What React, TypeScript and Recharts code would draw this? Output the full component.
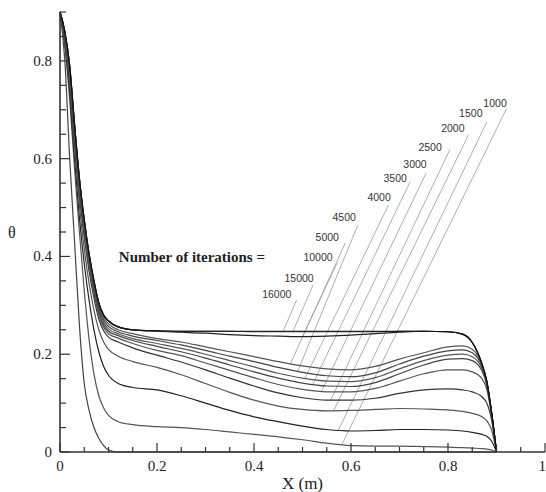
import { LineChart, Line, XAxis, YAxis, ReferenceLine, ReferenceDot } from 'recharts';

// x positions (m) shared by every curve
const xs = [0, 0.01, 0.02, 0.03, 0.04, 0.05, 0.06, 0.07, 0.08, 0.09, 0.1, 0.12, 0.15,
  0.2, 0.25, 0.3, 0.35, 0.4, 0.45, 0.5, 0.55, 0.6, 0.65, 0.7, 0.75, 0.8, 0.83, 0.85, 0.87, 0.88, 0.89, 0.9];

const it16000 = [0.9, 0.86, 0.79, 0.67, 0.56, 0.475, 0.405, 0.35, 0.305, 0.28, 0.268, 0.256, 0.25,
  0.248, 0.247, 0.247, 0.247, 0.247, 0.247, 0.247, 0.247, 0.247, 0.247, 0.247, 0.247, 0.246, 0.241, 0.224, 0.18, 0.145, 0.08, 0];
const it15000 = [0.9, 0.86, 0.79, 0.67, 0.56, 0.475, 0.405, 0.35, 0.305, 0.28, 0.268, 0.256, 0.25,
  0.248, 0.247, 0.247, 0.247, 0.246, 0.246, 0.246, 0.246, 0.246, 0.246, 0.247, 0.247, 0.246, 0.241, 0.224, 0.18, 0.145, 0.08, 0];
const it10000 = [0.9, 0.86, 0.79, 0.67, 0.56, 0.475, 0.405, 0.35, 0.305, 0.28, 0.268, 0.256, 0.25,
  0.247, 0.245, 0.243, 0.24, 0.238, 0.237, 0.236, 0.237, 0.239, 0.242, 0.245, 0.247, 0.246, 0.241, 0.224, 0.18, 0.145, 0.08, 0];
const it5000 = [0.9, 0.855, 0.785, 0.665, 0.555, 0.47, 0.4, 0.345, 0.3, 0.275, 0.262, 0.25, 0.242,
  0.232, 0.225, 0.215, 0.205, 0.195, 0.185, 0.176, 0.17, 0.168, 0.175, 0.19, 0.203, 0.215, 0.217, 0.21, 0.178, 0.143, 0.08, 0];
const it4500 = [0.9, 0.855, 0.78, 0.66, 0.55, 0.465, 0.395, 0.34, 0.295, 0.27, 0.257, 0.246, 0.237,
  0.228, 0.219, 0.208, 0.196, 0.185, 0.173, 0.163, 0.156, 0.154, 0.162, 0.18, 0.196, 0.207, 0.209, 0.203, 0.175, 0.141, 0.079, 0];
const it4000 = [0.9, 0.85, 0.775, 0.655, 0.545, 0.46, 0.39, 0.335, 0.29, 0.265, 0.252, 0.242, 0.232,
  0.222, 0.212, 0.2, 0.187, 0.174, 0.161, 0.151, 0.145, 0.144, 0.152, 0.17, 0.187, 0.198, 0.2, 0.195, 0.171, 0.139, 0.078, 0];
const it3500 = [0.9, 0.85, 0.77, 0.65, 0.54, 0.455, 0.385, 0.33, 0.285, 0.26, 0.247, 0.238, 0.228,
  0.216, 0.205, 0.192, 0.178, 0.164, 0.151, 0.141, 0.135, 0.134, 0.142, 0.16, 0.178, 0.19, 0.191, 0.187, 0.166, 0.136, 0.077, 0];
const it3000 = [0.9, 0.845, 0.765, 0.645, 0.535, 0.45, 0.38, 0.325, 0.28, 0.255, 0.242, 0.233, 0.222,
  0.208, 0.197, 0.182, 0.167, 0.152, 0.138, 0.128, 0.123, 0.123, 0.13, 0.145, 0.16, 0.168, 0.168, 0.164, 0.15, 0.128, 0.074, 0];
const it2500 = [0.9, 0.845, 0.76, 0.635, 0.525, 0.44, 0.37, 0.315, 0.272, 0.248, 0.235, 0.225, 0.213,
  0.198, 0.184, 0.168, 0.151, 0.135, 0.121, 0.111, 0.106, 0.106, 0.11, 0.12, 0.127, 0.129, 0.127, 0.123, 0.113, 0.1, 0.065, 0];
const it2000 = [0.9, 0.84, 0.75, 0.62, 0.505, 0.415, 0.345, 0.29, 0.25, 0.225, 0.21, 0.196, 0.185,
  0.173, 0.158, 0.14, 0.122, 0.106, 0.094, 0.087, 0.084, 0.085, 0.087, 0.089, 0.088, 0.086, 0.083, 0.079, 0.072, 0.064, 0.045, 0];
const it1500 = [0.9, 0.835, 0.735, 0.6, 0.48, 0.385, 0.31, 0.25, 0.205, 0.175, 0.157, 0.14, 0.132,
  0.127, 0.115, 0.1, 0.085, 0.072, 0.062, 0.053, 0.046, 0.043, 0.044, 0.046, 0.046, 0.045, 0.043, 0.04, 0.036, 0.032, 0.022, 0];
const it1000 = [0.9, 0.83, 0.72, 0.58, 0.45, 0.33, 0.23, 0.16, 0.115, 0.09, 0.075, 0.062, 0.056,
  0.052, 0.05, 0.046, 0.041, 0.036, 0.031, 0.025, 0.018, 0.013, 0.012, 0.012, 0.011, 0.01, 0.009, 0.008, 0.007, 0.006, 0.004, 0];
const itStart = [0.9, 0.8, 0.6, 0.43, 0.26, 0.14, 0.085, 0.05, 0.028, 0.013, 0.004, 0, 0,
  0, 0, 0, 0, 0, 0, 0, 0, 0, 0, 0, 0, 0, 0, 0, 0, 0, 0, 0];

const seriesNames = ['start', '1000', '1500', '2000', '2500', '3000', '3500', '4000', '4500', '5000', '10000', '15000', '16000'];
const seriesValues = [itStart, it1000, it1500, it2000, it2500, it3000, it3500, it4000, it4500, it5000, it10000, it15000, it16000];
const seriesColors = ['#444', '#555', '#222', '#555', '#333', '#555', '#444', '#555', '#444', '#555', '#222', '#333', '#111'];

// labels along the leader lines
const labelNames = ['1000', '1500', '2000', '2500', '3000', '3500', '4000', '4500', '5000', '10000', '15000', '16000'];
const labelX = [0.897, 0.847, 0.81, 0.763, 0.732, 0.691, 0.658, 0.586, 0.551, 0.532, 0.493, 0.447];
const labelY = [0.714, 0.693, 0.663, 0.624, 0.589, 0.56, 0.521, 0.481, 0.44, 0.399, 0.356, 0.323];
const leaderTopX = [0.921, 0.88, 0.842, 0.804, 0.755, 0.722, 0.677, 0.614, 0.588, 0.571, 0.522, 0.488];
const leaderTopY = [0.703, 0.675, 0.648, 0.619, 0.571, 0.553, 0.505, 0.464, 0.427, 0.386, 0.342, 0.311];
const leaderEndX = [0.581, 0.574, 0.564, 0.558, 0.539, 0.521, 0.505, 0.49, 0.475, 0.5, 0.48, 0.46];

const xTicks = [0, 0.05, 0.1, 0.15, 0.2, 0.25, 0.3, 0.35, 0.4, 0.45, 0.5, 0.55, 0.6, 0.65, 0.7, 0.75, 0.8, 0.85, 0.9, 0.95, 1];
const yTicks = [0, 0.05, 0.1, 0.15, 0.2, 0.25, 0.3, 0.35, 0.4, 0.45, 0.5, 0.55, 0.6, 0.65, 0.7, 0.75, 0.8, 0.85, 0.9];

const data = xs.map((x, i) => {
  const row: Record<string, number> = { x };
  seriesNames.forEach((n, k) => { row[n] = seriesValues[k][i]; });
  return row;
});

function valueAt(name: string, x: number) {
  const vals = seriesValues[seriesNames.indexOf(name)];
  for (let i = 1; i < xs.length; i++) {
    if (x <= xs[i]) {
      const t = (x - xs[i - 1]) / (xs[i] - xs[i - 1]);
      return vals[i - 1] + t * (vals[i] - vals[i - 1]);
    }
  }
  return vals[vals.length - 1];
}

const serif = '"Liberation Serif", "Times New Roman", serif';
const TICK_MARGIN = 6;

const isMajor = (v: number) => Math.abs(v * 5 - Math.round(v * 5)) < 1e-6;
const fmt = (v: number) => (v === 0 ? '0' : v === 1 ? '1' : v.toFixed(1));

function XTick(props: any) {
  const { x, y, payload } = props;
  const v = payload.value;
  const axisY = y - TICK_MARGIN;
  return (
    <g>
      <line x1={x} x2={x} y1={axisY} y2={axisY - (isMajor(v) ? 9 : 5)} stroke="#333" strokeWidth={1.2} />
      {isMajor(v) && (
        <text
          x={v === 1 ? x + 1 : x}
          y={axisY + 14}
          textAnchor={v === 1 ? 'end' : 'middle'}
          dominantBaseline="central"
          fontFamily={serif}
          fontSize={15}
          fill="#222"
        >
          {fmt(v)}
        </text>
      )}
    </g>
  );
}

function YTick(props: any) {
  const { x, y, payload } = props;
  const v = payload.value;
  const axisX = x + TICK_MARGIN;
  return (
    <g>
      <line x1={axisX} x2={axisX + (isMajor(v) ? 10 : 6)} y1={y} y2={y} stroke="#333" strokeWidth={1.2} />
      {isMajor(v) && v < 0.85 && (
        <text x={axisX - 8} y={y} textAnchor="end" dominantBaseline="central" fontFamily={serif} fontSize={15} fill="#222">
          {fmt(v)}
        </text>
      )}
    </g>
  );
}

export default function App() {
  return (
    <div style={{ position: 'absolute', left: 0, top: 0, background: '#fff' }}>
      <LineChart width={546} height={492} data={data} margin={{ top: 12, right: 1, left: 0, bottom: 0 }}>
        <XAxis
          dataKey="x"
          type="number"
          domain={[0, 1]}
          ticks={xTicks}
          interval={0}
          height={40}
          tickSize={0}
          tickMargin={TICK_MARGIN}
          tick={<XTick />}
          axisLine={{ stroke: '#333', strokeWidth: 1.6 }}
          label={{ value: 'X (m)', position: 'insideBottom', offset: 3, fontFamily: serif, fontSize: 17, fill: '#222' }}
        />
        <YAxis
          type="number"
          domain={[0, 0.9]}
          ticks={yTicks}
          interval={0}
          width={60}
          tickSize={0}
          tickMargin={TICK_MARGIN}
          tick={<YTick />}
          axisLine={{ stroke: '#333', strokeWidth: 1.6 }}
          label={{ value: 'θ', position: 'insideLeft', offset: 8, fontFamily: serif, fontSize: 16, fill: '#222' }}
        />
        {labelNames.map((n, i) => (
          <ReferenceLine
            key={'lead' + n}
            segment={[{ x: leaderEndX[i], y: valueAt(n, leaderEndX[i]) }, { x: leaderTopX[i], y: leaderTopY[i] }]}
            stroke="#999"
            strokeWidth={0.8}
            ifOverflow="visible"
          />
        ))}
        {seriesNames.map((n, k) => (
          <Line
            key={n}
            type="monotone"
            dataKey={n}
            stroke={seriesColors[k]}
            strokeWidth={1.2}
            dot={false}
            activeDot={false}
            isAnimationActive={false}
          />
        ))}
        {labelNames.map((n, i) => (
          <ReferenceDot
            key={'lbl' + n}
            x={labelX[i]}
            y={labelY[i]}
            r={0}
            fill="none"
            stroke="none"
            ifOverflow="visible"
            label={{ value: n, position: 'center', fontFamily: '"Liberation Sans", Arial, sans-serif', fontSize: 10.5, fill: '#333' }}
          />
        ))}
        <ReferenceDot
          x={0.272}
          y={0.399}
          r={0}
          fill="none"
          stroke="none"
          label={{ value: 'Number of iterations =', position: 'center', fontFamily: serif, fontSize: 15, fontWeight: 'bold', fill: '#222' }}
        />
      </LineChart>
    </div>
  );
}
